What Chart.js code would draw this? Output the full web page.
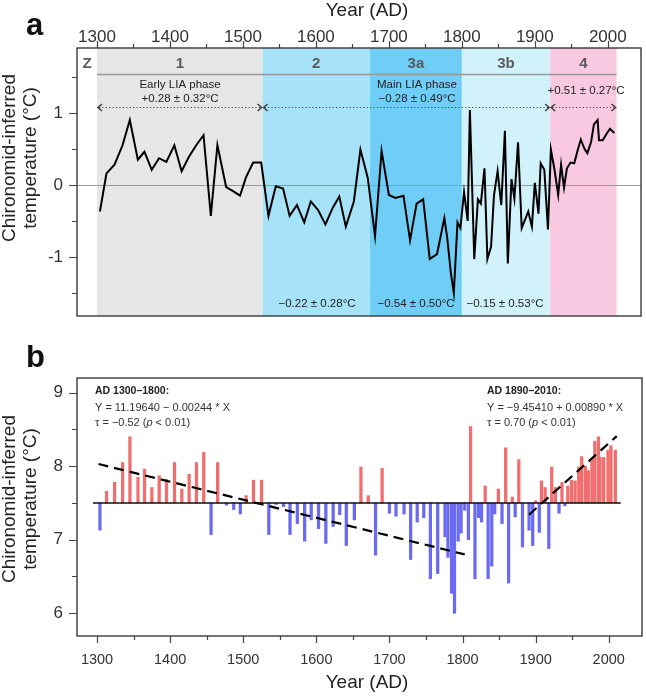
<!DOCTYPE html>
<html>
<head>
<meta charset="utf-8">
<script src="https://cdn.jsdelivr.net/npm/chart.js@4.4.1/dist/chart.umd.min.js"></script>
<style>
  html, body { margin: 0; padding: 0; background: #fff; }
  #wrap { position: relative; width: 646px; height: 696px; }
  #boxA { position: absolute; left: 0; top: 0; }
  #boxB { position: absolute; left: 0; top: 345px; }
</style>
</head>
<body>
<div id="wrap">
  <div id="boxA"><canvas id="chartA" width="646" height="345"></canvas></div>
  <div id="boxB"><canvas id="chartB" width="646" height="351"></canvas></div>
</div>
<script>
/* Chironomid-inferred temperature, two panels */

// sample years (AD), shared by both panels
const years = [
  1304, 1313, 1324, 1335, 1345, 1356, 1365, 1375, 1385, 1395, 1406, 1416, 1426, 1436, 1446, 1456, 1465, 1477, 1487, 1496,
  1504, 1514, 1525, 1535, 1545, 1555, 1564, 1574, 1584, 1593, 1603, 1613, 1623, 1632, 1641, 1652, 1661, 1671, 1681, 1690, 1700,
  1709, 1720, 1729, 1738, 1747, 1756, 1766, 1776, 1780, 1785, 1789, 1794, 1798, 1803,
  1808, 1811, 1817, 1822, 1826, 1831, 1835, 1840, 1844, 1849, 1854, 1859, 1863, 1868, 1872, 1877, 1882, 1891, 1896, 1900,
  1905, 1908, 1913, 1918, 1922, 1927, 1932, 1936, 1940, 1944, 1949, 1954, 1959, 1963, 1968, 1972, 1977, 1981, 1986, 1988, 1993, 1999, 2003, 2009,
];

// panel a: anomaly (°C)
const anomaly = [
  -0.37, 0.16, 0.28, 0.55, 0.90, 0.35, 0.46, 0.21, 0.37, 0.32, 0.55, 0.19, 0.39, 0.55, 0.69, -0.43, 0.55, -0.03, -0.09, -0.15,
  0.10, 0.31, 0.31, -0.43, -0.02, -0.05, -0.43, -0.28, -0.52, -0.23, -0.35, -0.55, -0.32, -0.16, -0.58, -0.23, 0.49, 0.10, -0.71, 0.47, -0.14,
  -0.18, -0.15, -0.77, -0.26, -0.20, -1.03, -0.96, -0.46, -0.74, -1.23, -1.50, -0.52, -0.60, -0.10,
  -0.50, 1.04, -1.03, -0.20, -0.26, 0.23, -1.03, -0.86, -0.15, 0.19, -0.28, 0.75, -1.09, 0.08, -0.19, 0.59, -0.60, -0.37, -0.58, 0.03,
  -0.40, 0.30, 0.21, -0.62, 0.49, 0.21, -0.14, 0.28, -0.04, 0.23, 0.31, 0.30, 0.49, 0.63, 0.50, 0.44, 0.59, 0.84, 0.90, 0.62, 0.62, 0.72, 0.78, 0.72,
];

// panel b: temperature (°C)
const tempB = [
  7.13, 7.66, 7.78, 8.05, 8.40, 7.85, 7.96, 7.71, 7.87, 7.82, 8.05, 7.69, 7.89, 8.05, 8.19, 7.07, 8.05, 7.47, 7.41, 7.35,
  7.60, 7.81, 7.81, 7.07, 7.48, 7.45, 7.07, 7.22, 6.98, 7.27, 7.15, 6.95, 7.18, 7.34, 6.92, 7.27, 7.99, 7.60, 6.79, 7.97, 7.36,
  7.32, 7.35, 6.73, 7.24, 7.30, 6.47, 6.54, 7.04, 6.76, 6.27, 6.00, 6.98, 7.09, 7.40,
  7.00, 8.54, 6.47, 7.30, 7.24, 7.73, 6.47, 6.64, 7.35, 7.69, 7.22, 8.25, 6.41, 7.58, 7.31, 8.09, 6.90, 7.13, 6.92, 7.53,
  7.10, 7.80, 7.71, 6.88, 7.99, 7.71, 7.36, 7.78, 7.46, 7.73, 7.81, 7.80, 7.99, 8.13, 8.00, 7.94, 8.09, 8.34, 8.40, 8.12, 8.12, 8.22, 8.28, 8.22,
];
const baseline = 7.5;

// zones of panel a
const zoneNames = ["Z", "1", "2", "3a", "3b", "4"];
const zoneEdges = [1272.6, 1300, 1527, 1674, 1800, 1921, 2012];
const zoneColors = ["#ffffff", "#e6e6e6", "#a7e3f8", "#70cdf5", "#d1f1fb", "#f8c9e1"];

// phase arrows [from, to]
const phaseSpans = [[1300, 1527], [1527, 1921], [1921, 2012]];

// trend lines (panel b)
const trendEarlyX = [1302, 1803];
const trendEarlyY = [8.03, 6.8];
const trendLateX = [1891, 2011];
const trendLateY = [7.34, 8.41];

const xTicks = [1300, 1350, 1400, 1450, 1500, 1550, 1600, 1650, 1700, 1750, 1800, 1850, 1900, 1950, 2000];
const yTicksA = [-1.5, -1, -0.5, 0, 0.5, 1, 1.5];
const yTicksB = [6, 6.5, 7, 7.5, 8, 8.5, 9];

const FONT = "'Liberation Sans', Arial, sans-serif";
const RED = "#f26e6e";
const BLUE = "#6b6bf2";

function txt(ctx, s, x, y, size, opts = {}) {
  ctx.font = `${opts.bold ? "bold " : ""}${opts.italic ? "italic " : ""}${size}px ${FONT}`;
  ctx.fillStyle = opts.color || "#333";
  ctx.textAlign = opts.align || "center";
  ctx.textBaseline = "middle";
  ctx.fillText(s, x, y);
}

function drawTicks(chart, xPos, yTicks, xMajor, yMajor) {
  const { ctx, chartArea: a, scales: { x, y } } = chart;
  ctx.save();
  ctx.strokeStyle = "#444";
  ctx.lineWidth = 1.2;
  ctx.beginPath();
  xTicks.forEach((v) => {
    const px = Math.round(x.getPixelForValue(v)) + 0.5;
    const len = xMajor(v) ? 7 : 4;
    const y0 = xPos === "top" ? a.top : a.bottom;
    const dir = xPos === "top" ? -1 : 1;
    ctx.moveTo(px, y0);
    ctx.lineTo(px, y0 + dir * len);
  });
  yTicks.forEach((v) => {
    const py = Math.round(y.getPixelForValue(v)) + 0.5;
    const len = yMajor(v) ? 8 : 5;
    ctx.moveTo(a.left, py);
    ctx.lineTo(a.left - len, py);
  });
  ctx.stroke();
  ctx.strokeStyle = "#3a3a3a";
  ctx.lineWidth = 1.4;
  ctx.strokeRect(a.left, a.top, a.right - a.left, a.bottom - a.top);
  ctx.restore();
}

function yTitle(ctx, cy) {
  ctx.save();
  ctx.translate(10, cy);
  ctx.rotate(-Math.PI / 2);
  txt(ctx, "Chironomid-inferred", 0, 0, 19, { color: "#222" });
  ctx.restore();
  ctx.save();
  ctx.translate(31, cy);
  ctx.rotate(-Math.PI / 2);
  txt(ctx, "temperature (°C)", 0, 0, 19, { color: "#222" });
  ctx.restore();
}

function arrowHead(ctx, x, y, dir) {
  ctx.beginPath();
  ctx.moveTo(x - dir * 5, y - 3.5);
  ctx.lineTo(x - dir * 1, y);
  ctx.lineTo(x - dir * 5, y + 3.5);
  ctx.stroke();
}

const panelA = {
  id: "panelA",
  beforeDatasetsDraw(chart) {
    const { ctx, chartArea: a, scales: { x, y } } = chart;
    ctx.save();
    zoneNames.forEach((n, i) => {
      const x0 = x.getPixelForValue(zoneEdges[i]);
      const x1 = x.getPixelForValue(zoneEdges[i + 1]);
      ctx.fillStyle = zoneColors[i];
      ctx.fillRect(x0, a.top, x1 - x0, a.bottom - a.top);
      txt(ctx, n, (x0 + x1) / 2, 64, 15, { bold: true, color: "#5a5a5a" });
    });
    // divider under zone names
    ctx.strokeStyle = "#999";
    ctx.lineWidth = 1.5;
    ctx.beginPath();
    ctx.moveTo(x.getPixelForValue(zoneEdges[1]), 74.5);
    ctx.lineTo(x.getPixelForValue(zoneEdges[6]), 74.5);
    ctx.stroke();
    // zero line
    const y0 = Math.round(y.getPixelForValue(0)) + 0.5;
    ctx.strokeStyle = "#9a9a9a";
    ctx.lineWidth = 1;
    ctx.beginPath();
    ctx.moveTo(a.left, y0);
    ctx.lineTo(a.right, y0);
    ctx.stroke();
    // phase arrows
    ctx.strokeStyle = "#444";
    phaseSpans.forEach(([s, e]) => {
      const xs = x.getPixelForValue(s), xe = x.getPixelForValue(e);
      ctx.setLineDash([1.2, 2.2]);
      ctx.lineWidth = 1.2;
      ctx.beginPath();
      ctx.moveTo(xs + 2, 107.5);
      ctx.lineTo(xe - 2, 107.5);
      ctx.stroke();
      ctx.setLineDash([]);
      ctx.lineWidth = 1.6;
      arrowHead(ctx, xs, 107.5, -1);
      arrowHead(ctx, xe, 107.5, 1);
    });
    txt(ctx, "Early LIA phase", 180, 85, 11.5, { color: "#222" });
    txt(ctx, "+0.28 ± 0.32°C", 180, 99, 11.5, { color: "#222" });
    txt(ctx, "Main LIA phase", 417, 85, 11.5, { color: "#222" });
    txt(ctx, "\u22120.28 ± 0.49°C", 417, 99, 11.5, { color: "#222" });
    txt(ctx, "+0.51 ± 0.27°C", 586, 91, 11.5, { color: "#222" });
    txt(ctx, "\u22120.22 ± 0.28°C", 317, 304, 11.5, { color: "#222" });
    txt(ctx, "\u22120.54 ± 0.50°C", 416, 304, 11.5, { color: "#222" });
    txt(ctx, "\u22120.15 ± 0.53°C", 505, 304, 11.5, { color: "#222" });
    ctx.restore();
  },
  afterDraw(chart) {
    const { ctx } = chart;
    drawTicks(chart, "top", yTicksA, (v) => v % 100 === 0, (v) => Number.isInteger(v));
    txt(ctx, "Year (AD)", 367, 11, 19, { color: "#222" });
    yTitle(ctx, 158);
    txt(ctx, "a", 26, 26, 31, { bold: true, color: "#111", align: "left" });
  },
};

const panelB = {
  id: "panelB",
  afterDraw(chart) {
    const { ctx } = chart;
    drawTicks(chart, "bottom", yTicksB, (v) => v % 100 === 0, (v) => Number.isInteger(v));
    txt(ctx, "Year (AD)", 367, 338, 19, { color: "#222" });
    yTitle(ctx, 154);
    txt(ctx, "b", 26, 13, 31, { bold: true, color: "#111", align: "left" });
    // regression notes
    txt(ctx, "AD 1300\u20131800:", 95, 46, 10.5, { bold: true, color: "#222", align: "left" });
    txt(ctx, "Y = 11.19640 \u2212 0.00244 * X", 95, 63, 11, { color: "#333", align: "left" });
    txt(ctx, "AD 1890\u20132010:", 487, 46, 10.5, { bold: true, color: "#222", align: "left" });
    txt(ctx, "Y = \u22129.45410 + 0.00890 * X", 487, 63, 11, { color: "#333", align: "left" });
    tau(ctx, 95, 78, "\u22120.52");
    tau(ctx, 487, 78, "0.70");
  },
};

function tau(ctx, x, y, v) {
  const parts = [[`\u03c4 = ${v} (`, false], ["p", true], [" < 0.01)", false]];
  let cx = x;
  parts.forEach(([s, it]) => {
    ctx.font = `${it ? "italic " : ""}11px ${FONT}`;
    txt(ctx, s, cx, y, 11, { italic: it, color: "#333", align: "left" });
    cx += ctx.measureText(s).width;
  });
}

const xScaleBase = {
  type: "linear",
  min: 1272.6,
  max: 2045.5,
  offset: false,
  grid: { display: false, drawTicks: false },
  border: { display: false },
  afterBuildTicks: (s) => { s.ticks = xTicks.map((v) => ({ value: v })); },
};

new Chart(document.getElementById("chartA"), {
  type: "line",
  data: {
    datasets: [{
      data: years.map((yr, i) => ({ x: yr, y: anomaly[i] })),
      borderColor: "#000",
      borderWidth: 2,
      pointRadius: 0,
      tension: 0,
    }],
  },
  options: {
    responsive: false,
    animation: false,
    events: [],
    layout: { padding: { left: 0, right: 5, top: 0, bottom: 29 } },
    plugins: { legend: { display: false }, tooltip: { enabled: false } },
    scales: {
      x: {
        ...xScaleBase,
        position: "top",
        afterFit: (s) => { s.height = 48; },
        ticks: {
          autoSkip: false, maxRotation: 0, padding: 0, color: "#333",
          font: { family: FONT, size: 17 },
          callback: (v) => (v % 100 === 0 ? String(v) : ""),
        },
      },
      y: {
        min: -1.82,
        max: 1.9,
        grid: { display: false, drawTicks: false },
        border: { display: false },
        afterFit: (s) => { s.width = 77; },
        afterBuildTicks: (s) => { s.ticks = yTicksA.map((v) => ({ value: v })); },
        ticks: {
          padding: 14, color: "#333",
          font: { family: FONT, size: 17 },
          callback: (v) => (Number.isInteger(v) ? (v < 0 ? "-" + Math.abs(v) : String(v)) : ""),
        },
      },
    },
  },
  plugins: [panelA],
});

new Chart(document.getElementById("chartB"), {
  type: "bar",
  data: {
    datasets: [
      {
        type: "line",
        order: 0,
        data: trendEarlyX.map((v, i) => ({ x: v, y: trendEarlyY[i] })),
        borderColor: "#000",
        borderWidth: 2.2,
        borderDash: [10, 6],
        pointRadius: 0,
      },
      {
        type: "line",
        order: 0,
        data: trendLateX.map((v, i) => ({ x: v, y: trendLateY[i] })),
        borderColor: "#000",
        borderWidth: 2.2,
        borderDash: [10, 6],
        pointRadius: 0,
      },
      {
        type: "line",
        order: 1,
        data: [{ x: 1294.5, y: baseline }, { x: 2016.5, y: baseline }],
        borderColor: "#111",
        borderWidth: 1.5,
        pointRadius: 0,
      },
      {
        type: "bar",
        order: 2,
        data: years.map((yr, i) => ({ x: yr, y: [baseline, tempB[i]] })),
        backgroundColor: (c) => (tempB[c.dataIndex] >= baseline ? RED : BLUE),
        barThickness: 2.6,
        borderWidth: 0,
      },
    ],
  },
  options: {
    responsive: false,
    animation: false,
    events: [],
    layout: { padding: { left: 0, right: 4, top: 33, bottom: 0 } },
    plugins: { legend: { display: false }, tooltip: { enabled: false } },
    scales: {
      x: {
        ...xScaleBase,
        position: "bottom",
        afterFit: (s) => { s.height = 60; },
        ticks: {
          autoSkip: false, maxRotation: 0, padding: 15, color: "#333",
          font: { family: FONT, size: 14.5 },
          callback: (v) => (v % 100 === 0 ? String(v) : ""),
        },
      },
      y: {
        min: 5.69,
        max: 9.2,
        grid: { display: false, drawTicks: false },
        border: { display: false },
        afterFit: (s) => { s.width = 77; },
        afterBuildTicks: (s) => { s.ticks = yTicksB.map((v) => ({ value: v })); },
        ticks: {
          padding: 14, color: "#333",
          font: { family: FONT, size: 17 },
          callback: (v) => (Number.isInteger(v) ? String(v) : ""),
        },
      },
    },
  },
  plugins: [panelB],
});
</script>
</body>
</html>
